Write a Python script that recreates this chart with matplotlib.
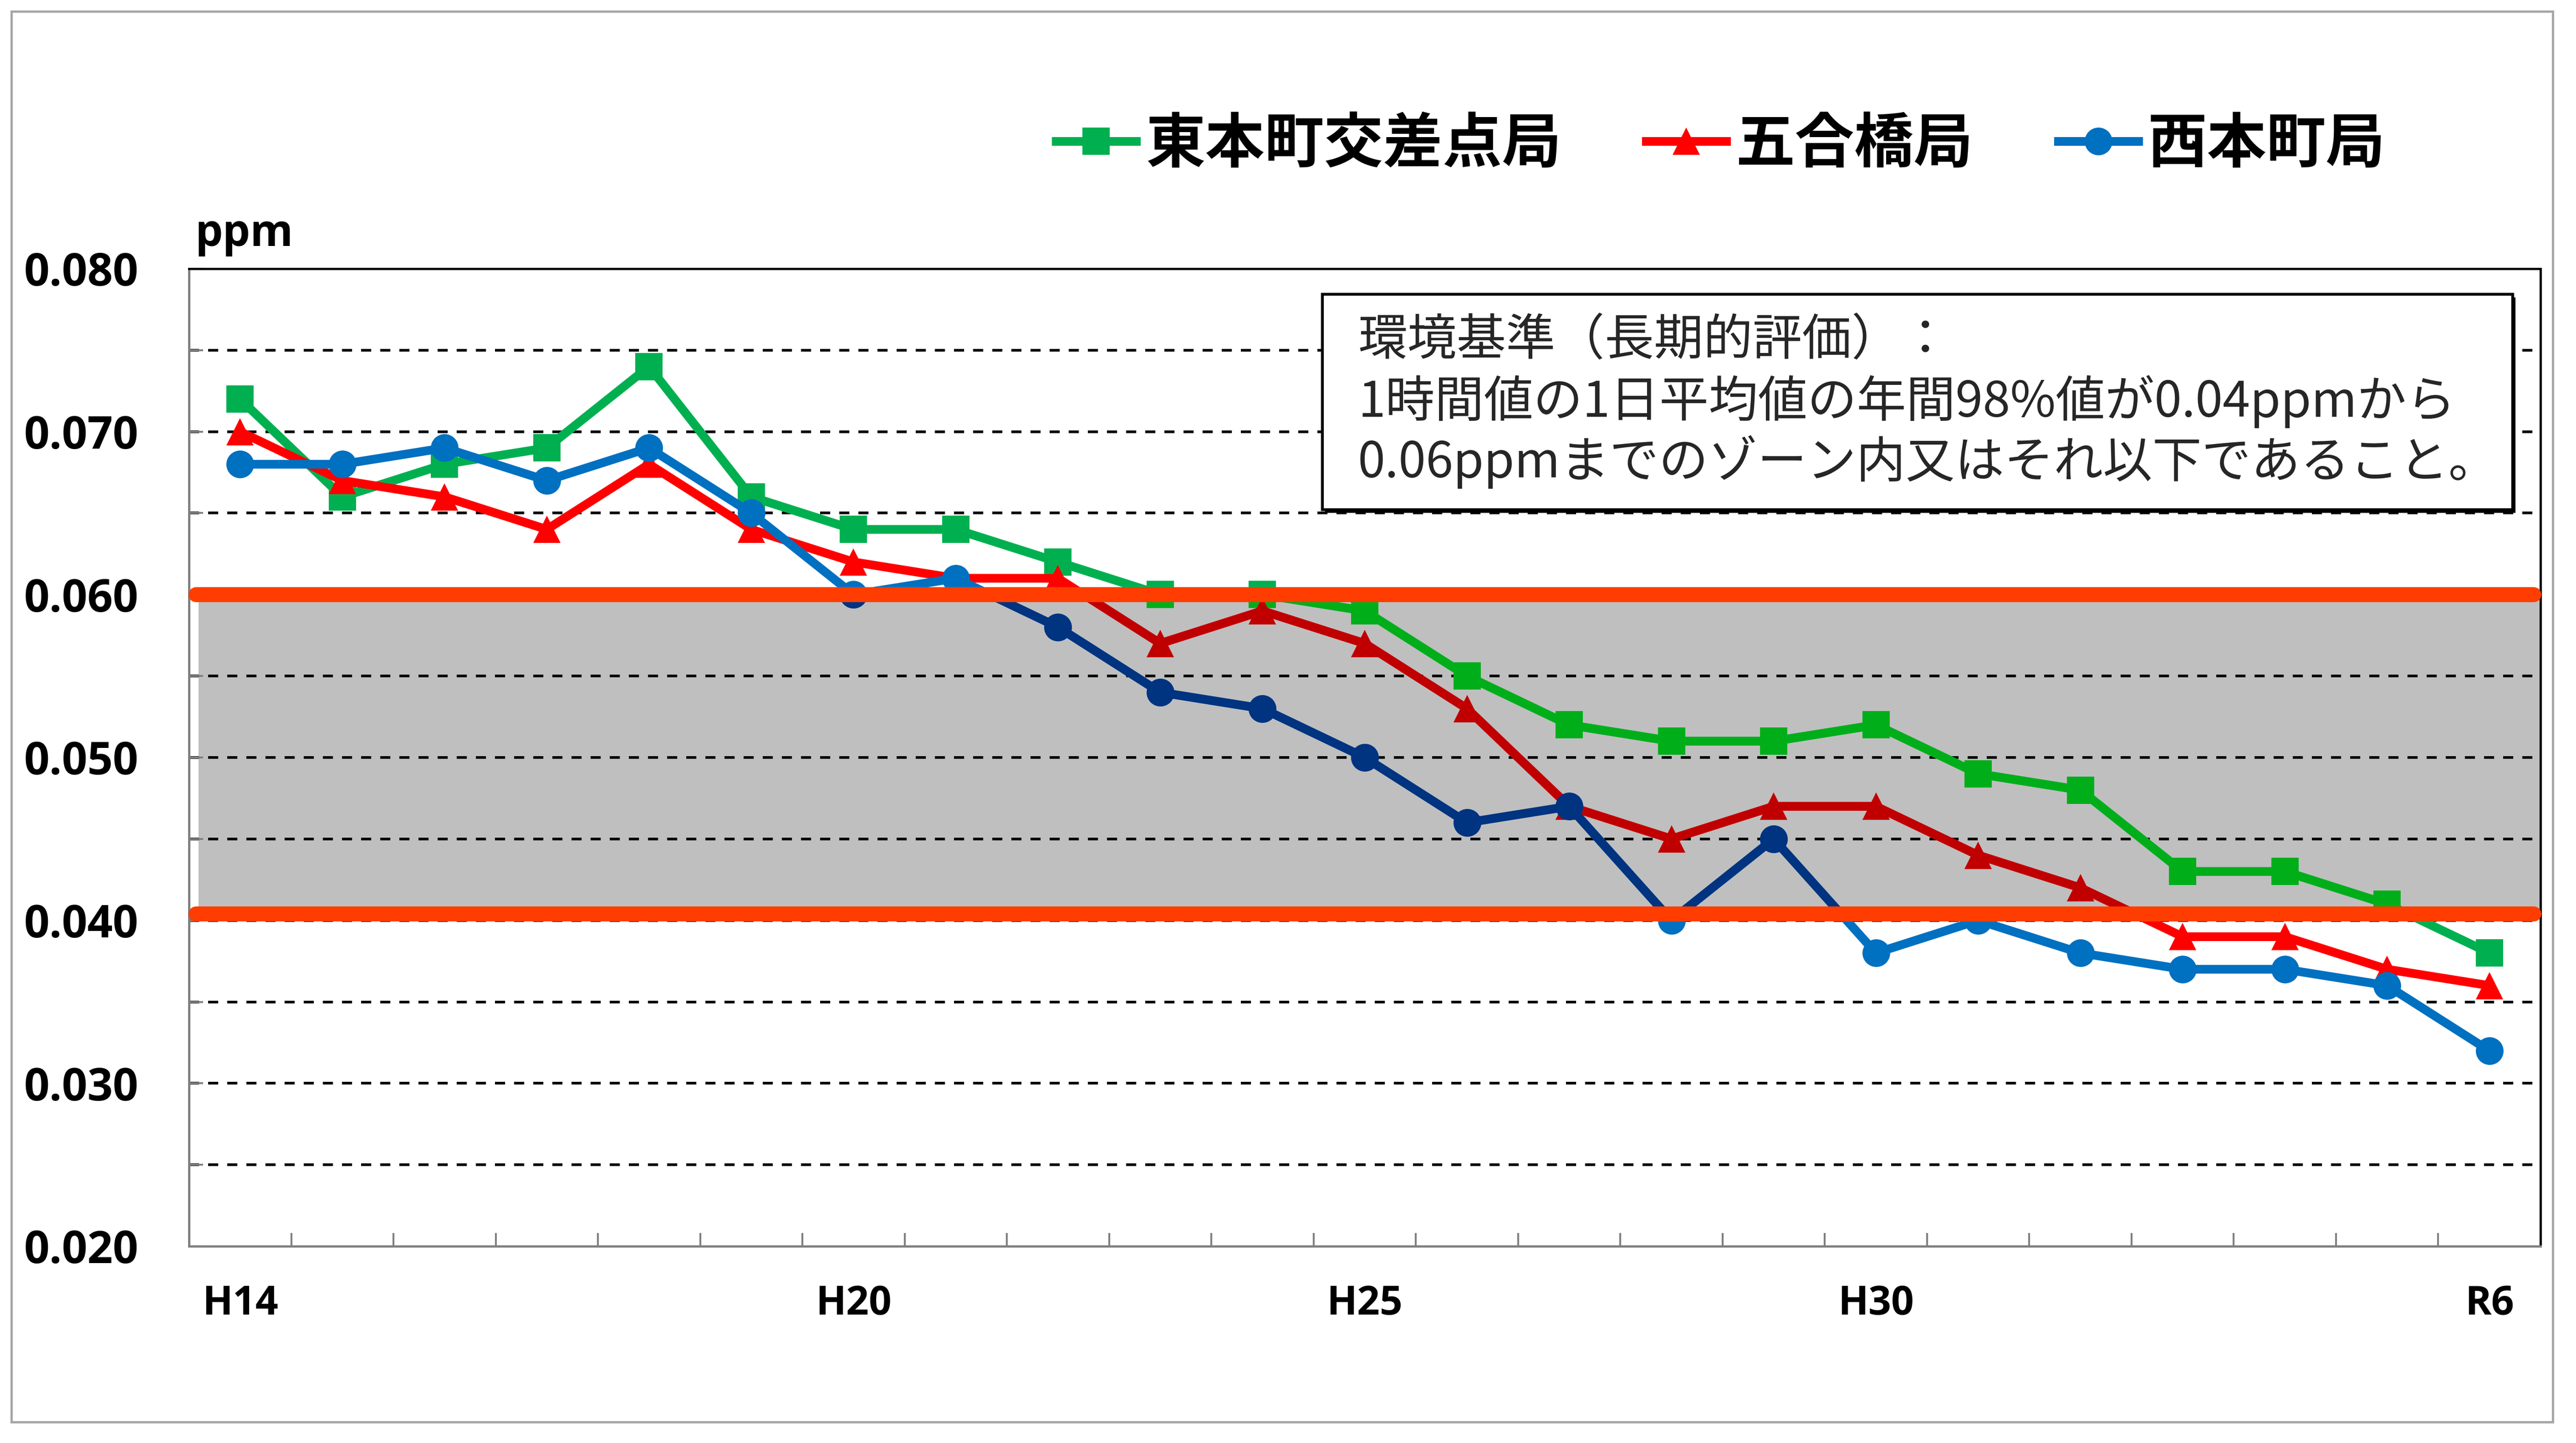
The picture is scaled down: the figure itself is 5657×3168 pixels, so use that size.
import numpy as np
import matplotlib
matplotlib.use("Agg")
import matplotlib.pyplot as plt
from matplotlib.patches import Rectangle
from matplotlib.lines import Line2D
from matplotlib.ticker import MultipleLocator, FixedLocator

plt.rcParams['font.family'] = ['Open Sans', 'Noto Sans CJK JP', 'DejaVu Sans']
plt.rcParams['font.weight'] = 'bold'

# fiscal years H14 .. R6
years = ["H14", "H15", "H16", "H17", "H18", "H19", "H20", "H21", "H22", "H23",
         "H24", "H25", "H26", "H27", "H28", "H29", "H30", "H31", "R2", "R3",
         "R4", "R5", "R6"]
tick_years = ["H14", "H20", "H25", "H30", "R6"]

higashi = [0.072, 0.066, 0.068, 0.069, 0.074, 0.066, 0.064, 0.064, 0.062, 0.060,
           0.060, 0.059, 0.055, 0.052, 0.051, 0.051, 0.052, 0.049, 0.048, 0.043,
           0.043, 0.041, 0.038]
gogo = [0.070, 0.067, 0.066, 0.064, 0.068, 0.064, 0.062, 0.061, 0.061, 0.057,
        0.059, 0.057, 0.053, 0.047, 0.045, 0.047, 0.047, 0.044, 0.042, 0.039,
        0.039, 0.037, 0.036]
nishi = [0.068, 0.068, 0.069, 0.067, 0.069, 0.065, 0.060, 0.061, 0.058, 0.054,
         0.053, 0.050, 0.046, 0.047, 0.040, 0.045, 0.038, 0.040, 0.038, 0.037,
         0.037, 0.036, 0.032]

names = ["東本町交差点局", "五合橋局", "西本町局"]
band_lo, band_hi = 0.0404, 0.060
note_lines = ["環境基準（長期的評価）：",
              "1時間値の1日平均値の年間98%値が0.04ppmから",
              "0.06ppmまでのゾーン内又はそれ以下であること。"]

W, H = 5657, 3168
fig = plt.figure(figsize=(W / 300, H / 300), dpi=300)
ax = fig.add_axes([415 / W, 1 - 2736 / H, (5579 - 415) / W, (2736 - 590) / H])

x = np.arange(len(years))
ax.set_xlim(-0.5, len(years) - 0.5)
ax.set_ylim(0.020, 0.080)

# gray zone between the two limits
ax.axhspan(band_lo, band_hi, xmin=0.004, xmax=1, color='#BFBFBF', lw=0, zorder=1)

for v in np.arange(0.025, 0.0751, 0.005):
    ax.axhline(v, color='black', lw=1.4, ls=(0, (3.8, 3.4)), zorder=1.5)

series = [(higashi, 's', '#00B050', '#00AE1A'),
          (gogo, '^', '#FF0000', '#C00000'),
          (nishi, 'o', '#0070C0', '#003380')]
clip = Rectangle((-0.5, band_lo), len(years), band_hi - band_lo, transform=ax.transData)
handles = []
for vals, mk, c, dc in series:
    ax.plot(x, vals, marker=mk, color=c, lw=4.6, ms=14.6, mew=0, zorder=3)
    ln, = ax.plot(x, vals, marker=mk, color=dc, lw=4.6, ms=14.6, mew=0, zorder=3.1)
    ln.set_clip_path(clip)
    handles.append(Line2D([], [], color=c, marker=mk, lw=4.6, ms=14.6, mew=0))

for v in (band_hi, band_lo):
    ax.axhline(v, xmin=0.003, xmax=0.997, color='#FF3D00', lw=7.9,
               solid_capstyle='round', zorder=4, clip_on=False)

# axes
ax.yaxis.set_major_locator(MultipleLocator(0.01))
ax.yaxis.set_minor_locator(MultipleLocator(0.005))
ax.yaxis.set_major_formatter(lambda v, p: f"{v:.3f}")
ax.tick_params(axis='y', which='both', direction='in', length=7.4, width=1,
               color='#808080', pad=26.6)
ax.tick_params(axis='y', labelsize=23.5)

ax.set_xticks([years.index(t) for t in tick_years], tick_years, fontsize=21)
ax.xaxis.set_minor_locator(FixedLocator(np.arange(0.5, len(years) - 1, 1)))
ax.tick_params(axis='x', which='major', length=0, pad=20)
ax.tick_params(axis='x', which='minor', direction='in', length=7, width=1,
               color='#808080')

for side in ('left', 'bottom'):
    ax.spines[side].set_color('#808080')
    ax.spines[side].set_linewidth(1.2)
for side in ('top', 'right'):
    ax.spines[side].set_color('black')
    ax.spines[side].set_linewidth(1.2)

fig.text(429 / W, 1 - 540 / H, "ppm", fontsize=23, va='baseline')

fig.legend(handles, names, loc='center left', bbox_to_anchor=(2319 / W, 1 - 318 / H),
           ncol=3, frameon=False, borderpad=0, borderaxespad=0, handlelength=1.35,
           handletextpad=0.16, columnspacing=1.43,
           prop=dict(family='Noto Sans CJK JP', weight='bold', size=31.3))

# note box
bx0, bx1, by0, by1 = 2904, 5518, 646, 1119
fig.patches.append(Rectangle(((bx0 + 6) / W, 1 - (by1 + 7) / H), (bx1 - bx0) / W,
                             (by1 - by0) / H, transform=fig.transFigure,
                             facecolor='black', edgecolor='none', zorder=5))
fig.patches.append(Rectangle((bx0 / W, 1 - by1 / H), (bx1 - bx0) / W, (by1 - by0) / H,
                             transform=fig.transFigure, facecolor='white',
                             edgecolor='black', lw=1.5, zorder=5.1))
for i, line in enumerate(note_lines):
    fig.text(2982 / W, 1 - (749 + 132.5 * i) / H, line, fontsize=26,
             family='Noto Sans CJK JP', fontweight='normal', color='#262626',
             va='center', zorder=6)

# outer frame
fig.patches.append(Rectangle((25 / W, 1 - 3122 / H), (5606 - 25) / W, (3122 - 25) / H,
                             transform=fig.transFigure, fill=False,
                             edgecolor='#A6A6A6', lw=1.2, zorder=0))

fig.savefig("out.png", dpi=300)
